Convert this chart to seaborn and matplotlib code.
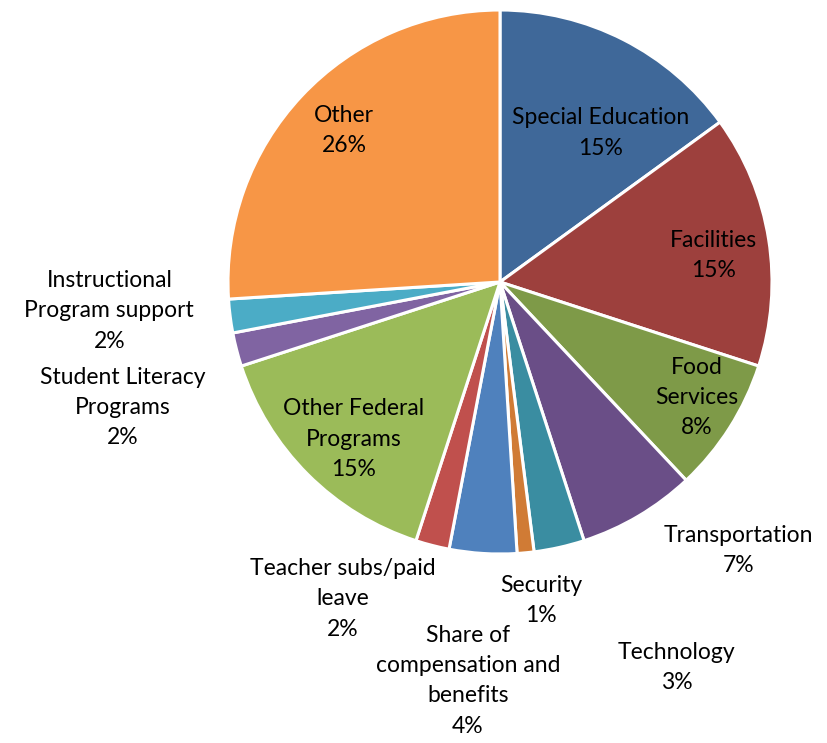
import matplotlib
matplotlib.use("Agg")
import matplotlib.pyplot as plt
import seaborn as sns
import numpy as np

# Budget categories, clockwise from 12 o'clock
categories = [
    "Special Education",
    "Facilities",
    "Food\nServices",
    "Transportation",
    "Technology",
    "Security",
    "Share of\ncompensation and\nbenefits",
    "Teacher subs/paid\nleave",
    "Other Federal\nPrograms",
    "Student Literacy\nPrograms",
    "Instructional\nProgram support",
    "Other",
]
shares = [15, 15, 8, 7, 3, 1, 4, 2, 15, 2, 2, 26]

slice_colors = [
    "#3F6899", "#9D403D", "#7E9A48", "#6A4E87", "#3A8DA1", "#D07B35",
    "#4F81BD", "#C0504D", "#9BBB59", "#8064A2", "#4BACC6", "#F79646",
]

# label placement: distance from centre (in radii) and angular nudge (deg)
label_radius = [0.66, 0.79, 0.84, 1.32, 1.56, 1.18, 1.47, 1.30, 0.79, 1.46, 1.44, 0.80]
label_nudge = [-7, -2, 2, 11, 12, 2, -1, -12, 2, 4, -3, -1]

sns.set_theme(style="white")
plt.rcParams["font.family"] = ["Lato", "DejaVu Sans"]

fig = plt.figure(figsize=(8.27, 7.43), dpi=100)
ax = fig.add_axes([0, 0, 1, 1])

wedges, _ = ax.pie(
    shares,
    colors=sns.color_palette(slice_colors),
    startangle=90,
    counterclock=False,
    radius=1.0,
    wedgeprops=dict(edgecolor="white", linewidth=2.2),
)

total = float(sum(shares))
for w, name, val, r, nudge in zip(wedges, categories, shares, label_radius, label_nudge):
    mid = np.deg2rad((w.theta1 + w.theta2) / 2.0 + nudge)
    x, y = r * np.cos(mid), r * np.sin(mid)
    ax.text(x, y, f"{name}\n{val / total * 100:.0f}%", ha="center", va="center",
            fontsize=16.5, color="black", linespacing=1.55)

R = 272.0
ax.set_xlim(-500 / R, 327 / R)
ax.set_ylim(-(743 - 282) / R, 282 / R)
ax.set_aspect("equal")
ax.axis("off")

fig.savefig("out.png", dpi=100, facecolor="white")
